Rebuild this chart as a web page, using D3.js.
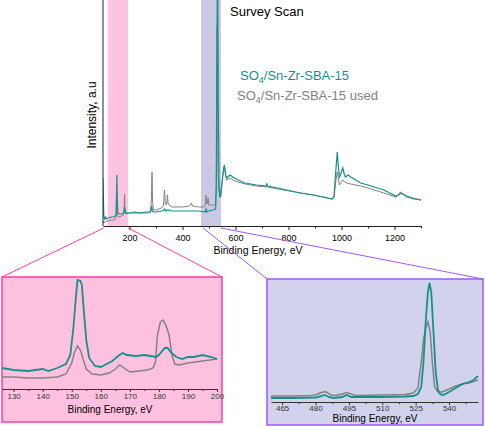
<!DOCTYPE html>
<html>
<head>
<meta charset="utf-8">
<script src="https://cdn.jsdelivr.net/npm/d3@7/dist/d3.min.js"></script>
<style>
  body { margin: 0; background: #fff; }
  svg text { font-family: "Liberation Sans", Arial, sans-serif; }
</style>
</head>
<body>
<div id="chart"></div>
<script>
// survey scan, [binding energy eV, intensity]
var surveyFresh = [[100,48],[103,10],[106,7],[110,9],[113,7],[120,8],[130,9],[140,9],[146,10],[149,12],[151,30],[152.5,51],[154,25],[156,13],[160,12],[170,12],[178,13],[180,15],[182,19],[184,14],[190,13],[200,13],[220,14],[240,13],[260,14],[278,14],[282,17],[284,20],[286,15],[290,14],[300,14],[320,15],[330,16],[333,17],[336,15],[345,16],[360,15],[400,15],[430,15],[460,15],[485,14],[489,17],[492,14],[496,15],[500,15],[515,16],[525,17],[528,40],[530,160],[531.5,260],[533,260],[535,120],[538,40],[541,29],[545,30],[550,45],[555,58],[558,61],[560,57],[564,50],[568,48],[575,50],[580,51],[590,49],[610,46],[636,43],[680,41],[715,40],[718,42],[722,40],[760,38],[826,34],[845,33],[894,31],[930,29],[965,27],[972,30],[977,50],[984,74],[988,60],[992,49],[997,52],[1005,58],[1010,52],[1015,49],[1020,50],[1025,51],[1035,49],[1072,43],[1100,41],[1160,36],[1205,30],[1215,31],[1225,33],[1232,32],[1245,30],[1270,28],[1300,26]];
var surveyUsed = [[100,5],[103,3],[110,5],[120,5],[130,6],[140,6],[148,7],[151,14],[152.5,20],[154,10],[160,9],[170,10],[178,11],[180,20],[181.5,32],[183,16],[186,12],[200,13],[240,13],[270,13],[280,14],[283,30],[285,54],[287,25],[290,16],[300,16],[320,18],[328,20],[332,36],[335,22],[340,21],[343,31],[346,22],[360,19],[400,19],[425,20],[430,21],[434,23],[437,20],[460,19],[480,19],[486,21],[489,31],[492,22],[495,25],[497,28],[499,21],[510,21],[520,21],[524,22],[527,40],[529,150],[530.5,200],[532,140],[534,60],[537,35],[541,30],[546,38],[552,50],[556,56],[559,58],[563,50],[567,46],[575,47],[580,48],[590,46],[610,44],[636,42],[680,40],[720,39],[760,37],[826,34],[845,33],[894,31],[930,29],[965,27],[972,29],[977,42],[984,54],[988,48],[992,41],[997,43],[1005,46],[1012,44],[1020,43],[1035,42],[1072,40],[1100,38],[1160,33],[1205,29],[1215,31],[1222,34],[1230,32],[1245,29],[1270,27],[1300,26]];
var surveyTicks = [200, 400, 600, 800, 1000, 1200];
var surveyMinor = [300, 500, 700, 900, 1100, 1300];

// zoomed regions on the survey
var pinkRange = [118, 195];
var purpleRange = [470, 545];

// Sn 4d / S 2p region
var pinkFresh = [[126,21],[128,20],[130,19],[135,18],[140,20],[142,18],[145,21],[148,25],[149.5,34],[150.5,59],[151.5,94],[152,109],[153,108],[153.5,104],[154,84],[155,49],[156,31],[158,23],[160,22],[162,25],[164,28],[166,33],[167.5,36],[169,34],[172,33],[175,34],[177,33],[179,32],[180,34],[182,41],[183,41],[184,37],[186,32],[188,30],[190,32],[192,32],[195,34],[198,32],[200,30]];
var pinkUsed = [[126,12],[130,12],[135,11],[140,11],[145,12],[148,15],[150,26],[151,37],[152,43],[153,39],[154,29],[155,20],[157,15],[160,14],[163,16],[165,20],[166.5,24],[168,21],[170,17],[173,18],[176,19],[178,21],[178.8,27],[179.5,54],[180.5,67],[181.5,69],[182.5,63],[183.5,54],[184.5,34],[185.5,25],[187,24],[190,26],[195,28],[200,30]];
var pinkTicks = [130, 140, 150, 160, 170, 180, 190, 200];

// O 1s region
var purpleFresh = [[460,4],[470,4],[480,4.5],[483,6],[484,7],[486,5],[488,4],[492,5],[494,7],[496,5],[500,5],[510,5],[520,5.5],[524,6],[526,8],[527.5,15],[528.5,40],[529.5,80],[530.5,110],[531.2,119],[532,110],[533,70],[534,30],[535,12],[536,8],[537,7],[538,7.5],[540,10],[543,14],[546,18],[549,20],[551,22],[553,26]];
var purpleUsed = [[460,6],[470,6],[478,6.5],[480,7],[482,9],[484.5,10.5],[487,7],[489,6.5],[492,8],[494,9.5],[496,8],[498,6.5],[510,7],[520,7.5],[524,9],[526,14],[527.5,40],[528.5,62],[529.5,74],[530.5,80],[531.5,70],[532.5,40],[533.5,15],[535,10],[537,10],[540,13],[543,16],[546,18],[549,19],[553,22]];
var purpleTicks = [465, 480, 495, 510, 525, 540];

var teal = "#14918b", grey = "#828282";
var pinkFill = "#ffc1df", pinkLine = "#ff3f9f";
var purpleFill = "#d2d2ec", purpleLine = "#a05af5";

var svg = d3.select("#chart").append("svg")
  .attr("width", 486).attr("height", 426);

// ---- main survey plot
var x = d3.scaleLinear().domain([100, 1300]).range([103, 421]);
var y = d3.scaleLinear().domain([0, 226]).range([226, 0]);

svg.append("defs").append("clipPath").attr("id", "mainclip")
  .append("rect").attr("x", 103).attr("y", 0).attr("width", 320).attr("height", 226);

svg.append("rect").attr("x", x(pinkRange[0])).attr("y", 0)
  .attr("width", x(pinkRange[1]) - x(pinkRange[0])).attr("height", 226)
  .attr("fill", "#fcc4e0");
svg.append("rect").attr("x", x(purpleRange[0])).attr("y", 0)
  .attr("width", x(purpleRange[1]) - x(purpleRange[0])).attr("height", 226)
  .attr("fill", "#c9c9e6");

var line = d3.line().x(d => x(d[0])).y(d => y(d[1]));
var plot = svg.append("g").attr("clip-path", "url(#mainclip)");
plot.append("path").datum(surveyUsed).attr("d", line)
  .attr("fill", "none").attr("stroke", grey).attr("stroke-width", 1);
plot.append("path").datum(surveyFresh).attr("d", line)
  .attr("fill", "none").attr("stroke", teal).attr("stroke-width", 1.2);

var xAxis = svg.append("g").attr("transform", "translate(0,226)")
  .call(d3.axisBottom(x).tickValues(surveyTicks).tickSize(4).tickSizeOuter(0)
    .tickFormat(d3.format("d")));
svg.append("g").attr("transform", "translate(0,226)")
  .call(d3.axisBottom(x).tickValues(surveyMinor).tickSize(2.5).tickFormat(""))
  .select(".domain").remove();
xAxis.selectAll("text").attr("font-size", 9).attr("font-family", "Liberation Sans, Arial")
  .attr("y", 15).attr("dy", 0);
svg.selectAll(".domain, .tick line").attr("stroke", "#222");

svg.append("line").attr("x1", 103).attr("x2", 103).attr("y1", 0).attr("y2", 226)
  .attr("stroke", "#222");

svg.append("text").attr("x", 258).attr("y", 254).attr("text-anchor", "middle")
  .attr("font-size", 10.5).text("Binding Energy, eV");
svg.append("text").attr("transform", "translate(96,115) rotate(-90)")
  .attr("text-anchor", "middle").attr("font-size", 12).text("Intensity, a.u");
svg.append("text").attr("x", 230).attr("y", 16).attr("font-size", 13).text("Survey Scan");

var l1 = svg.append("text").attr("x", 240).attr("y", 80).attr("font-size", 13).attr("fill", teal);
l1.append("tspan").text("SO");
l1.append("tspan").attr("font-size", 9).attr("dy", 3).text("4");
l1.append("tspan").attr("dy", -3).text("/Sn-Zr-SBA-15");
var l2 = svg.append("text").attr("x", 237).attr("y", 100).attr("font-size", 13).attr("fill", grey);
l2.append("tspan").text("SO");
l2.append("tspan").attr("font-size", 9).attr("dy", 3).text("4");
l2.append("tspan").attr("dy", -3).text("/Sn-Zr-SBA-15 used");

// ---- insets
function inset(box, xDomain, xRange, axisY, yMax, fresh, used, ticks, minor, fill, stroke, tickBase, labelX, labelY) {
  var g = svg.append("g");
  g.append("rect").attr("x", box[0]).attr("y", box[1])
    .attr("width", box[2] - box[0]).attr("height", box[3] - box[1])
    .attr("fill", fill).attr("stroke", stroke).attr("stroke-width", 1.5);
  var ix = d3.scaleLinear().domain(xDomain).range(xRange);
  var iy = d3.scaleLinear().domain([0, yMax]).range([axisY, box[1]]);
  var ln = d3.line().x(d => ix(d[0])).y(d => iy(d[1]));
  g.append("path").datum(used).attr("d", ln)
    .attr("fill", "none").attr("stroke", grey).attr("stroke-width", 1.5);
  g.append("path").datum(fresh).attr("d", ln)
    .attr("fill", "none").attr("stroke", teal).attr("stroke-width", 1.8);
  var ax = g.append("g").attr("transform", "translate(0," + axisY + ")")
    .call(d3.axisBottom(ix).tickValues(ticks).tickSize(3).tickSizeOuter(0));
  g.append("g").attr("transform", "translate(0," + axisY + ")")
    .call(d3.axisBottom(ix).tickValues(minor).tickSize(2).tickFormat(""))
    .select(".domain").remove();
  g.selectAll(".domain, .tick line").attr("stroke", "#333");
  ax.selectAll("text").attr("font-size", 8).attr("font-family", "Liberation Sans, Arial")
    .attr("fill", "#333").attr("y", tickBase - axisY).attr("dy", 0);
  g.append("text").attr("x", labelX).attr("y", labelY).attr("text-anchor", "middle")
    .attr("font-size", 10).text("Binding Energy, eV");
  return g;
}

var pinkMinor = d3.range(135, 200, 10);
var purpleMinor = d3.range(472.5, 548, 15);

// connectors from survey bands to insets
svg.append("line").attr("x1", x(pinkRange[0]) - 4).attr("y1", 228).attr("x2", 2).attr("y2", 277)
  .attr("stroke", pinkLine);
svg.append("line").attr("x1", x(pinkRange[1])).attr("y1", 228).attr("x2", 222).attr("y2", 277)
  .attr("stroke", pinkLine);
svg.append("line").attr("x1", x(purpleRange[0]) + 2).attr("y1", 228).attr("x2", 267).attr("y2", 279)
  .attr("stroke", purpleLine);
svg.append("line").attr("x1", x(purpleRange[1])).attr("y1", 228).attr("x2", 483).attr("y2", 279)
  .attr("stroke", purpleLine);

inset([2, 277, 222, 422], [126, 200], [2, 217], 389, 112, pinkFresh, pinkUsed,
  pinkTicks, pinkMinor, pinkFill, pinkLine, 399, 110, 413);
inset([267, 279, 483, 425], [460, 553], [271, 478], 402, 123, purpleFresh, purpleUsed,
  purpleTicks, purpleMinor, purpleFill, purpleLine, 411, 375, 422);
</script>
</body>
</html>
